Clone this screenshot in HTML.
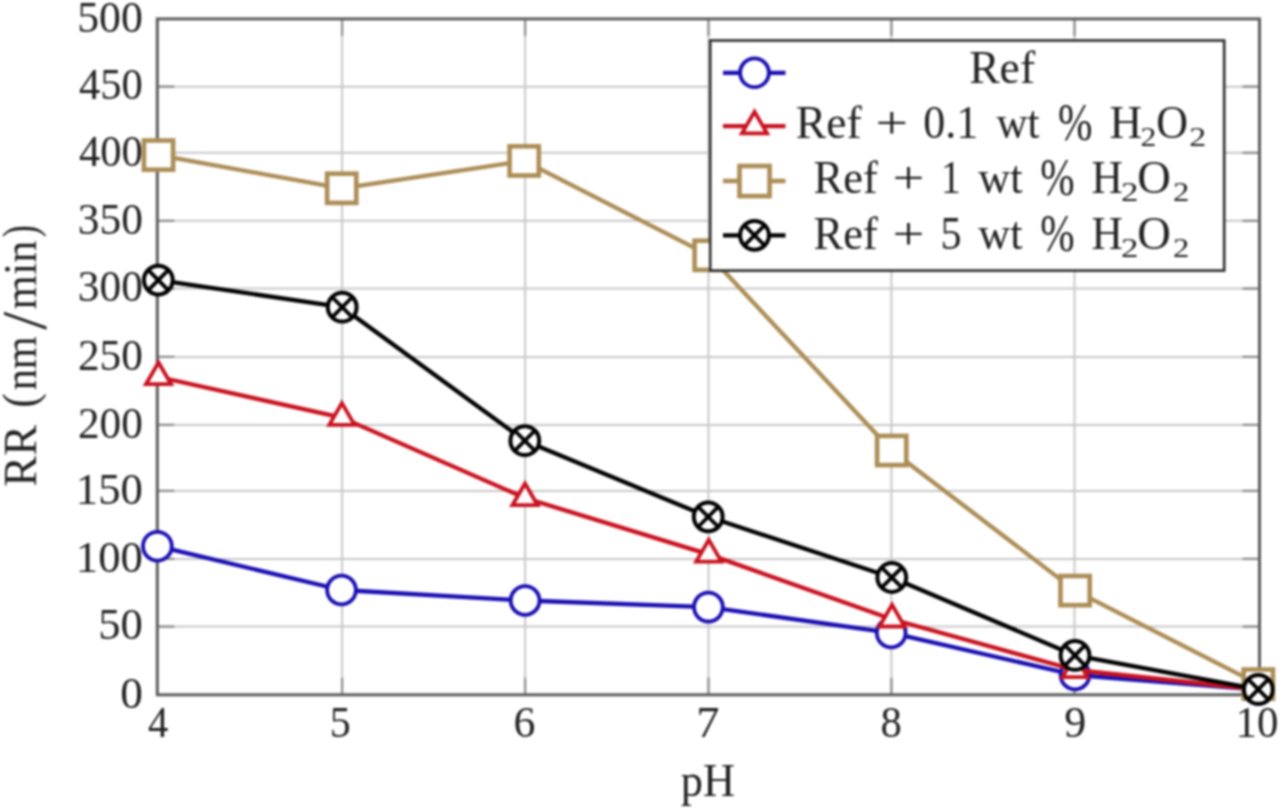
<!DOCTYPE html>
<html><head><meta charset="utf-8"><style>
html,body{margin:0;padding:0;background:#fff;}
body{width:1280px;height:810px;overflow:hidden;font-family:"Liberation Serif",serif;}
svg{display:block;filter:blur(0.85px);}
</style></head><body>
<svg width="1280" height="810" viewBox="0 0 1280 810">
<rect width="1280" height="810" fill="#fff"/>
<path d="M342.1,18.9 V694.8 M525.1,18.9 V694.8 M708.5,18.9 V694.8 M891.4,18.9 V694.8 M1074.5,18.9 V694.8 M157.3,626.6 H1259.5 M157.3,558.9 H1259.5 M157.3,490.9 H1259.5 M157.3,424.9 H1259.5 M157.3,356.9 H1259.5 M157.3,288.6 H1259.5 M157.3,220.8 H1259.5 M157.3,152.8 H1259.5 M157.3,86.7 H1259.5" stroke="#c8c8c8" stroke-width="2" fill="none"/>
<path d="M342.1,694.8 v-17 M342.1,18.9 v17 M525.1,694.8 v-17 M525.1,18.9 v17 M708.5,694.8 v-17 M708.5,18.9 v17 M891.4,694.8 v-17 M891.4,18.9 v17 M1074.5,694.8 v-17 M1074.5,18.9 v17 M157.3,626.6 h17 M1259.5,626.6 h-17 M157.3,558.9 h17 M1259.5,558.9 h-17 M157.3,490.9 h17 M1259.5,490.9 h-17 M157.3,424.9 h17 M1259.5,424.9 h-17 M157.3,356.9 h17 M1259.5,356.9 h-17 M157.3,288.6 h17 M1259.5,288.6 h-17 M157.3,220.8 h17 M1259.5,220.8 h-17 M157.3,152.8 h17 M1259.5,152.8 h-17 M157.3,86.7 h17 M1259.5,86.7 h-17" stroke="#8c8c8c" stroke-width="2.2" fill="none"/>
<rect x="157.3" y="18.9" width="1102.2" height="675.9" fill="none" stroke="#5c5c5c" stroke-width="3"/>
<polyline points="157.4,546.2 341.5,590.0 525.1,600.5 708.4,607.1 891.2,632.9 1075.0,675.0 1258.5,689.5" fill="none" stroke="#1a0fb2" stroke-width="4.3" stroke-linejoin="round"/>
<circle cx="157.4" cy="546.2" r="14.4" fill="#fff" stroke="#1a0fb2" stroke-width="3.8"/>
<circle cx="341.5" cy="590.0" r="14.4" fill="#fff" stroke="#1a0fb2" stroke-width="3.8"/>
<circle cx="525.1" cy="600.5" r="14.4" fill="#fff" stroke="#1a0fb2" stroke-width="3.8"/>
<circle cx="708.4" cy="607.1" r="14.4" fill="#fff" stroke="#1a0fb2" stroke-width="3.8"/>
<circle cx="891.2" cy="632.9" r="14.4" fill="#fff" stroke="#1a0fb2" stroke-width="3.8"/>
<circle cx="1075.0" cy="675.0" r="14.4" fill="#fff" stroke="#1a0fb2" stroke-width="3.8"/>
<circle cx="1258.5" cy="689.5" r="14.4" fill="#fff" stroke="#1a0fb2" stroke-width="3.8"/>
<polyline points="158.5,377.0 341.9,417.6 525.0,498.0 708.8,554.4 892.0,619.2 1075.0,670.0 1258.5,689.5" fill="none" stroke="#c9121f" stroke-width="4.3" stroke-linejoin="round"/>
<path d="M158.5,362.5 L171.1,384.2 L145.9,384.2 Z" fill="#fff" stroke="#c9121f" stroke-width="3.8" stroke-linejoin="miter"/>
<path d="M341.9,403.1 L354.5,424.9 L329.3,424.9 Z" fill="#fff" stroke="#c9121f" stroke-width="3.8" stroke-linejoin="miter"/>
<path d="M525.0,483.5 L537.6,505.2 L512.4,505.2 Z" fill="#fff" stroke="#c9121f" stroke-width="3.8" stroke-linejoin="miter"/>
<path d="M708.8,539.9 L721.4,561.6 L696.2,561.6 Z" fill="#fff" stroke="#c9121f" stroke-width="3.8" stroke-linejoin="miter"/>
<path d="M892.0,604.7 L904.6,626.5 L879.4,626.5 Z" fill="#fff" stroke="#c9121f" stroke-width="3.8" stroke-linejoin="miter"/>
<path d="M1075.0,655.5 L1087.6,677.2 L1062.4,677.2 Z" fill="#fff" stroke="#c9121f" stroke-width="3.8" stroke-linejoin="miter"/>
<path d="M1258.5,675.0 L1271.1,696.8 L1245.9,696.8 Z" fill="#fff" stroke="#c9121f" stroke-width="3.8" stroke-linejoin="miter"/>
<polyline points="158.5,155.1 341.7,188.3 524.2,160.9 709.2,255.3 891.7,450.5 1075.1,590.6 1258.3,684.1" fill="none" stroke="#ac8d56" stroke-width="4.3" stroke-linejoin="round"/>
<rect x="143.9" y="140.5" width="29.2" height="29.2" fill="#fff" stroke="#ac8d56" stroke-width="4.6"/>
<rect x="327.1" y="173.7" width="29.2" height="29.2" fill="#fff" stroke="#ac8d56" stroke-width="4.6"/>
<rect x="509.6" y="146.3" width="29.2" height="29.2" fill="#fff" stroke="#ac8d56" stroke-width="4.6"/>
<rect x="694.6" y="240.7" width="29.2" height="29.2" fill="#fff" stroke="#ac8d56" stroke-width="4.6"/>
<rect x="877.1" y="435.9" width="29.2" height="29.2" fill="#fff" stroke="#ac8d56" stroke-width="4.6"/>
<rect x="1060.5" y="576.0" width="29.2" height="29.2" fill="#fff" stroke="#ac8d56" stroke-width="4.6"/>
<rect x="1243.7" y="669.5" width="29.2" height="29.2" fill="#fff" stroke="#ac8d56" stroke-width="4.6"/>
<polyline points="158.3,280.1 342.2,307.2 524.8,440.7 708.2,516.8 891.8,577.5 1075.0,655.4 1258.3,689.4" fill="none" stroke="#000000" stroke-width="4.3" stroke-linejoin="round"/>
<circle cx="158.3" cy="280.1" r="14.4" fill="#fff" stroke="#000000" stroke-width="4"/><path d="M148.1,269.9 L168.5,290.3 M148.1,290.3 L168.5,269.9" stroke="#000000" stroke-width="3.8"/>
<circle cx="342.2" cy="307.2" r="14.4" fill="#fff" stroke="#000000" stroke-width="4"/><path d="M332.0,297.0 L352.4,317.4 M332.0,317.4 L352.4,297.0" stroke="#000000" stroke-width="3.8"/>
<circle cx="524.8" cy="440.7" r="14.4" fill="#fff" stroke="#000000" stroke-width="4"/><path d="M514.6,430.5 L535.0,450.9 M514.6,450.9 L535.0,430.5" stroke="#000000" stroke-width="3.8"/>
<circle cx="708.2" cy="516.8" r="14.4" fill="#fff" stroke="#000000" stroke-width="4"/><path d="M698.0,506.6 L718.4,527.0 M698.0,527.0 L718.4,506.6" stroke="#000000" stroke-width="3.8"/>
<circle cx="891.8" cy="577.5" r="14.4" fill="#fff" stroke="#000000" stroke-width="4"/><path d="M881.6,567.3 L902.0,587.7 M881.6,587.7 L902.0,567.3" stroke="#000000" stroke-width="3.8"/>
<circle cx="1075.0" cy="655.4" r="14.4" fill="#fff" stroke="#000000" stroke-width="4"/><path d="M1064.8,645.2 L1085.2,665.6 M1064.8,665.6 L1085.2,645.2" stroke="#000000" stroke-width="3.8"/>
<circle cx="1258.3" cy="689.4" r="14.4" fill="#fff" stroke="#000000" stroke-width="4"/><path d="M1248.1,679.2 L1268.5,699.6 M1248.1,699.6 L1268.5,679.2" stroke="#000000" stroke-width="3.8"/>
<rect x="710.2" y="40.5" width="514.0" height="230.1" fill="#fff" stroke="#2c2c2c" stroke-width="2.6"/>
<path d="M723,72.8 H785.5" stroke="#1a0fb2" stroke-width="4.3"/>
<circle cx="754.5" cy="72.8" r="14.4" fill="#fff" stroke="#1a0fb2" stroke-width="3.8"/>
<path d="M723,126.2 H785.5" stroke="#c9121f" stroke-width="4.3"/>
<path d="M754.5,111.7 L767.1,133.4 L741.9,133.4 Z" fill="#fff" stroke="#c9121f" stroke-width="3.8" stroke-linejoin="miter"/>
<path d="M723,181.0 H785.5" stroke="#ac8d56" stroke-width="4.3"/>
<rect x="739.5" y="166.0" width="30.1" height="30.1" fill="#fff" stroke="#ac8d56" stroke-width="4.6"/>
<path d="M723,235.3 H785.5" stroke="#000000" stroke-width="4.3"/>
<circle cx="754.5" cy="235.3" r="14.4" fill="#fff" stroke="#000000" stroke-width="4"/><path d="M744.3,225.1 L764.7,245.5 M744.3,245.5 L764.7,225.1" stroke="#000000" stroke-width="3.8"/>
<g style="font-family:'Liberation Serif',serif" fill="#222222"><text x="969.18" y="83.10" font-size="46" textLength="65.92" lengthAdjust="spacingAndGlyphs">Ref</text>
<text x="795.78" y="137.50" font-size="46" textLength="65.92" lengthAdjust="spacingAndGlyphs">Ref</text>
<text x="875.42" y="137.50" font-size="46" textLength="32.60" lengthAdjust="spacingAndGlyphs">+</text>
<text x="923.32" y="137.50" font-size="46" textLength="55.02" lengthAdjust="spacingAndGlyphs">0.1</text>
<text x="996.46" y="137.50" font-size="46" textLength="43.09" lengthAdjust="spacingAndGlyphs">wt</text>
<text x="1057.89" y="139.70" font-size="52" textLength="34.43" lengthAdjust="spacingAndGlyphs">%</text>
<text x="1109.50" y="137.50" font-size="46" textLength="32.62" lengthAdjust="spacingAndGlyphs">H</text>
<text x="1140.41" y="146.00" font-size="28" textLength="15.84" lengthAdjust="spacingAndGlyphs">2</text>
<text x="1156.29" y="137.50" font-size="46" textLength="31.81" lengthAdjust="spacingAndGlyphs">O</text>
<text x="1189.21" y="146.00" font-size="28" textLength="16.96" lengthAdjust="spacingAndGlyphs">2</text>
<text x="813.62" y="192.50" font-size="46" textLength="64.28" lengthAdjust="spacingAndGlyphs">Ref</text>
<text x="892.47" y="192.50" font-size="46" textLength="32.00" lengthAdjust="spacingAndGlyphs">+</text>
<text x="941.03" y="192.50" font-size="46" textLength="19.74" lengthAdjust="spacingAndGlyphs">1</text>
<text x="978.36" y="192.50" font-size="46" textLength="44.10" lengthAdjust="spacingAndGlyphs">wt</text>
<text x="1040.29" y="194.70" font-size="52" textLength="34.32" lengthAdjust="spacingAndGlyphs">%</text>
<text x="1091.45" y="192.50" font-size="46" textLength="31.32" lengthAdjust="spacingAndGlyphs">H</text>
<text x="1120.97" y="201.00" font-size="28" textLength="17.46" lengthAdjust="spacingAndGlyphs">2</text>
<text x="1137.29" y="192.50" font-size="46" textLength="33.62" lengthAdjust="spacingAndGlyphs">O</text>
<text x="1172.96" y="201.00" font-size="28" textLength="16.34" lengthAdjust="spacingAndGlyphs">2</text>
<text x="813.62" y="248.75" font-size="46" textLength="64.28" lengthAdjust="spacingAndGlyphs">Ref</text>
<text x="892.47" y="248.75" font-size="46" textLength="32.00" lengthAdjust="spacingAndGlyphs">+</text>
<text x="940.55" y="248.75" font-size="46" textLength="21.10" lengthAdjust="spacingAndGlyphs">5</text>
<text x="978.36" y="248.75" font-size="46" textLength="44.10" lengthAdjust="spacingAndGlyphs">wt</text>
<text x="1040.29" y="250.95" font-size="52" textLength="34.32" lengthAdjust="spacingAndGlyphs">%</text>
<text x="1091.45" y="248.75" font-size="46" textLength="31.32" lengthAdjust="spacingAndGlyphs">H</text>
<text x="1120.97" y="257.25" font-size="28" textLength="17.46" lengthAdjust="spacingAndGlyphs">2</text>
<text x="1137.29" y="248.75" font-size="46" textLength="33.62" lengthAdjust="spacingAndGlyphs">O</text>
<text x="1172.96" y="257.25" font-size="28" textLength="16.34" lengthAdjust="spacingAndGlyphs">2</text>
<text x="120.27" y="707.50" font-size="43.5" textLength="22.65" lengthAdjust="spacingAndGlyphs">0</text>
<text x="98.31" y="639.30" font-size="43.5" textLength="44.59" lengthAdjust="spacingAndGlyphs">50</text>
<text x="75.87" y="571.60" font-size="43.5" textLength="67.03" lengthAdjust="spacingAndGlyphs">100</text>
<text x="75.87" y="503.60" font-size="43.5" textLength="67.03" lengthAdjust="spacingAndGlyphs">150</text>
<text x="77.90" y="437.60" font-size="43.5" textLength="64.95" lengthAdjust="spacingAndGlyphs">200</text>
<text x="77.90" y="369.60" font-size="43.5" textLength="64.95" lengthAdjust="spacingAndGlyphs">250</text>
<text x="77.72" y="301.30" font-size="43.5" textLength="65.13" lengthAdjust="spacingAndGlyphs">300</text>
<text x="77.72" y="233.50" font-size="43.5" textLength="65.13" lengthAdjust="spacingAndGlyphs">350</text>
<text x="78.97" y="165.50" font-size="43.5" textLength="63.85" lengthAdjust="spacingAndGlyphs">400</text>
<text x="78.97" y="99.40" font-size="43.5" textLength="63.85" lengthAdjust="spacingAndGlyphs">450</text>
<text x="77.26" y="31.60" font-size="43.5" textLength="65.61" lengthAdjust="spacingAndGlyphs">500</text>
<text x="148.01" y="737.00" font-size="43.5" textLength="20.33" lengthAdjust="spacingAndGlyphs">4</text>
<text x="329.76" y="737.00" font-size="43.5" textLength="20.98" lengthAdjust="spacingAndGlyphs">5</text>
<text x="513.62" y="737.00" font-size="43.5" textLength="21.88" lengthAdjust="spacingAndGlyphs">6</text>
<text x="696.24" y="737.00" font-size="43.5" textLength="23.19" lengthAdjust="spacingAndGlyphs">7</text>
<text x="880.57" y="737.00" font-size="43.5" textLength="21.35" lengthAdjust="spacingAndGlyphs">8</text>
<text x="1064.39" y="737.00" font-size="43.5" textLength="21.91" lengthAdjust="spacingAndGlyphs">9</text>
<text x="1235.54" y="737.00" font-size="43.5" textLength="42.79" lengthAdjust="spacingAndGlyphs">10</text>
<text x="680.68" y="796.10" font-size="46" textLength="54.32" lengthAdjust="spacingAndGlyphs">pH</text>
<g transform="rotate(-90)"><text x="-486.73" y="36.30" font-size="46" textLength="61.80" lengthAdjust="spacingAndGlyphs">RR</text><text x="-407.70" y="36.10" font-size="48.5" textLength="14.39" lengthAdjust="spacingAndGlyphs">(</text><text x="-390.37" y="36.30" font-size="46" textLength="54.24" lengthAdjust="spacingAndGlyphs">nm</text><text x="-329.80" y="45.60" font-size="64" textLength="18.00" lengthAdjust="spacingAndGlyphs">/</text><text x="-309.53" y="36.30" font-size="46" textLength="68.80" lengthAdjust="spacingAndGlyphs">min</text><text x="-237.18" y="36.10" font-size="48.5" textLength="12.19" lengthAdjust="spacingAndGlyphs">)</text></g></g>
</svg>
</body></html>
